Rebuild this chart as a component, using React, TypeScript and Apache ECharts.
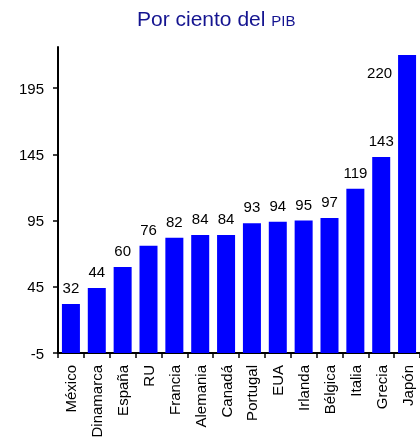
import React, { useEffect, useRef } from "react";
import * as echarts from "echarts";

const countries = [
  "México", "Dinamarca", "España", "RU", "Francia", "Alemania", "Canadá",
  "Portugal", "EUA", "Irlanda", "Bélgica", "Italia", "Grecia", "Japón",
];
const debtPct = [32, 44, 60, 76, 82, 84, 84, 93, 94, 95, 97, 119, 143, 220];
const yTicks = [-5, 45, 95, 145, 195];

const FONT = "'Liberation Sans', Arial, sans-serif";
const BAR_BLUE = "#0000ff";
const TITLE_BLUE = "#141490";

export default function App() {
  const ref = useRef<HTMLDivElement>(null);

  useEffect(() => {
    if (!ref.current) return;
    const chart = echarts.init(ref.current, undefined, { renderer: "svg" });
    const last = debtPct.length - 1;

    chart.setOption({
      animation: false,
      title: {
        text: "{a|Por ciento del }{b|PIB}",
        left: 132,
        top: 0,
        textStyle: {
          rich: {
            a: { fontSize: 21, fontWeight: "normal", color: TITLE_BLUE, fontFamily: FONT, verticalAlign: "bottom", lineHeight: 24 },
            b: { fontSize: 15, fontWeight: "normal", color: TITLE_BLUE, fontFamily: FONT, verticalAlign: "bottom", lineHeight: 24, padding: [0, 0, 1, 0] },
          },
        },
      },
      grid: { left: 58, top: 47, width: 364, height: 306, containLabel: false },
      xAxis: {
        type: "category",
        data: countries,
        axisLine: { onZero: false, lineStyle: { color: "#000", width: 2 } },
        axisTick: { show: true, length: 5, lineStyle: { color: "#000", width: 1.5 } },
        axisLabel: {
          rotate: 90,
          interval: 0,
          margin: 12,
          fontSize: 15,
          color: "#000",
          fontFamily: FONT,
        },
      },
      yAxis: {
        type: "value",
        min: -5,
        max: 226,
        interval: 50,
        // bars rise from the bottom of the axis rather than from zero
        startValue: -5,
        splitLine: { show: false },
        axisLine: { show: true, lineStyle: { color: "#000", width: 2 } },
        axisTick: { show: true, length: 5, customValues: yTicks, lineStyle: { color: "#000", width: 1.5 } },
        axisLabel: {
          customValues: yTicks,
          margin: 14,
          fontSize: 15,
          color: "#000",
          fontFamily: FONT,
        },
      },
      series: [
        {
          type: "bar",
          barWidth: 18,
          itemStyle: { color: BAR_BLUE },
          label: {
            show: true,
            position: "top",
            distance: 9,
            fontSize: 15,
            color: "#000",
            fontFamily: FONT,
          },
          data: debtPct.map((v, i) =>
            i === last
              ? {
                  value: v,
                  label: { position: [-6, 18], align: "right", verticalAlign: "middle" },
                }
              : v
          ),
        },
      ],
    });

    return () => chart.dispose();
  }, []);

  return (
    <div
      ref={ref}
      style={{ position: "fixed", left: 0, top: 0, width: 420, height: 442 }}
    />
  );
}
